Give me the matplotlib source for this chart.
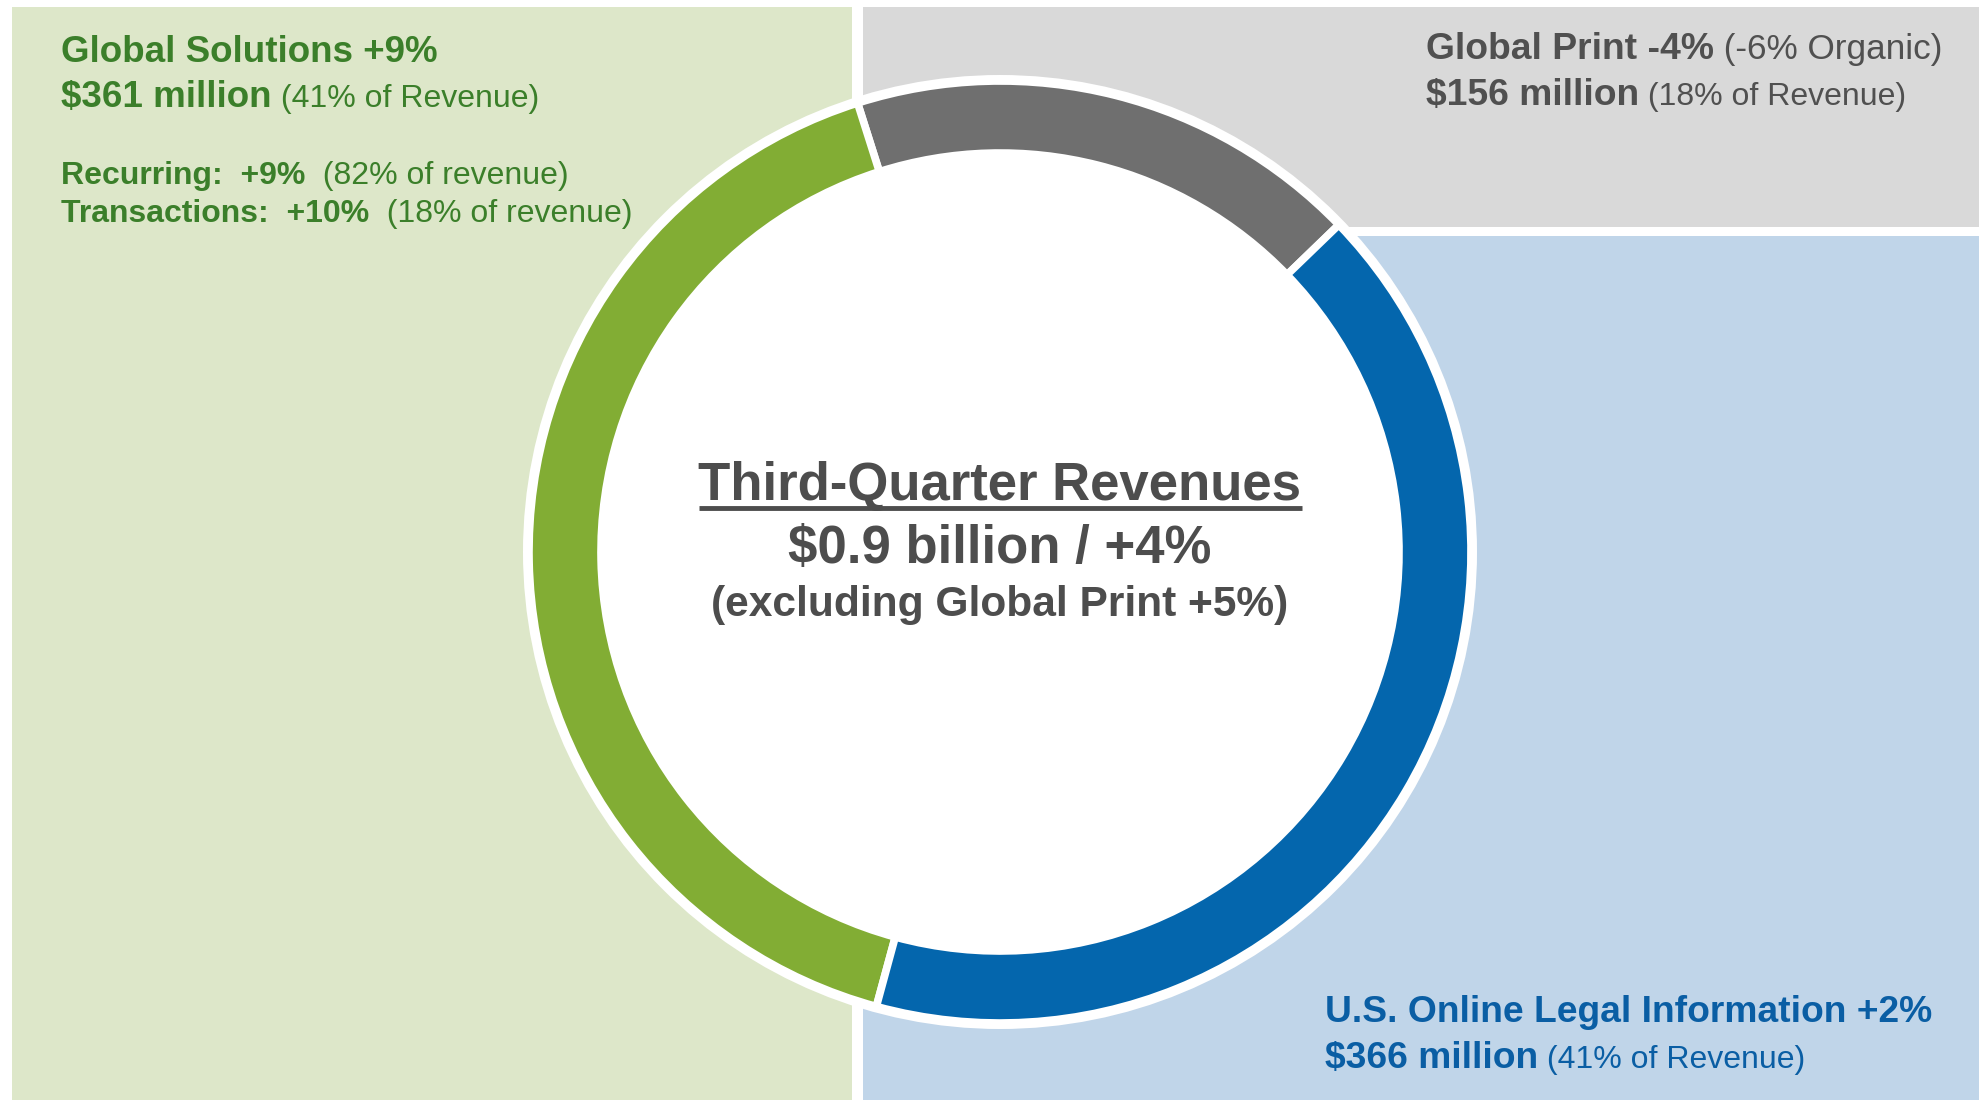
import matplotlib
matplotlib.use('Agg')
import matplotlib.pyplot as plt
from matplotlib.patches import Rectangle, Circle

plt.rcParams['font.family'] = ['Liberation Sans Narrow', 'Liberation Sans', 'DejaVu Sans']

W, H = 1979, 1100

# ring data ($ million), counter-clockwise from the gray/blue split
segments = ['Global Print', 'Global Solutions', 'U.S. Online Legal Information']
revenue = [156, 361, 366]
ring_colors = ['#6f6f6f', '#82ad34', '#0466ad']

# text blocks: lines of (text, weight, size)
gs_lines = [[('Global Solutions +9%', 'bold', 26.5)],
            [('$361 million', 'bold', 26.5), (' (41% of Revenue)', 'normal', 23)],
            [('Recurring:  +9%', 'bold', 23), ('  (82% of revenue)', 'normal', 23)],
            [('Transactions:  +10%', 'bold', 23), ('  (18% of revenue)', 'normal', 23)]]
gp_lines = [[('Global Print -4%', 'bold', 26.8), (' (-6% Organic)', 'normal', 25.3)],
            [('$156 million', 'bold', 26.8), (' (18% of Revenue)', 'normal', 23)]]
us_lines = [[('U.S. Online Legal Information +2%', 'bold', 26.8)],
            [('$366 million', 'bold', 26.8), (' (41% of Revenue)', 'normal', 23)]]
center_lines = ['Third-Quarter Revenues', '$0.9 billion / +4%', '(excluding Global Print +5%)']


fig = plt.figure(figsize=(W / 100, H / 100), dpi=100)
ax = fig.add_axes([0, 0, 1, 1])

# background panels (pixel coords, y measured from top)
def panel(x0, y0, x1, y1, c):
    ax.add_patch(Rectangle((x0, H - y1), x1 - x0, y1 - y0, fc=c, ec='none', zorder=0))

panel(12, 7, 852, 1100, '#dde7c9')
panel(863, 7, W, 227, '#d9d9d9')
panel(863, 236, W, 1100, '#c0d5e9')

cx, cy = 1000, H - 552
ax.add_patch(Circle((cx, cy), 477, fc='white', ec='none', zorder=1))
wedges, _ = ax.pie(revenue, colors=ring_colors, startangle=44, counterclock=True,
                   center=(cx, cy), radius=471, frame=True,
                   wedgeprops=dict(width=72, edgecolor='white', linewidth=5.5))
for w in wedges:
    w.set_zorder(2)

ax.set_xlim(0, W)
ax.set_ylim(0, H)
ax.set_axis_off()

renderer = fig.canvas.get_renderer()

def draw_block(x, baselines, lines, color):
    for yb, parts in zip(baselines, lines):
        xx = x
        for s, wt, fs in parts:
            t = ax.text(xx, H - yb, s, fontsize=fs, fontweight=wt, color=color,
                        ha='left', va='baseline', zorder=3)
            xx = t.get_window_extent(renderer).x1

draw_block(61, [62, 107, 184, 222], gs_lines, '#3b7f2a')
draw_block(1426, [59, 105], gp_lines, '#505050')
draw_block(1325, [1022, 1068], us_lines, '#0a5ea4')

c_sizes = [38, 38, 30.6]
c_base = [500, 563, 616]
for i, s in enumerate(center_lines):
    t = ax.text(cx, H - c_base[i], s, fontsize=c_sizes[i], fontweight='bold',
                color='#4d4d4d', ha='center', va='baseline', zorder=3)
    if i == 0:
        bb = t.get_window_extent(renderer)
        ax.plot([bb.x0, bb.x1], [H - 508, H - 508], color='#4d4d4d', lw=3.5,
                solid_capstyle='butt', zorder=3)

fig.savefig('out.png', dpi=100)
